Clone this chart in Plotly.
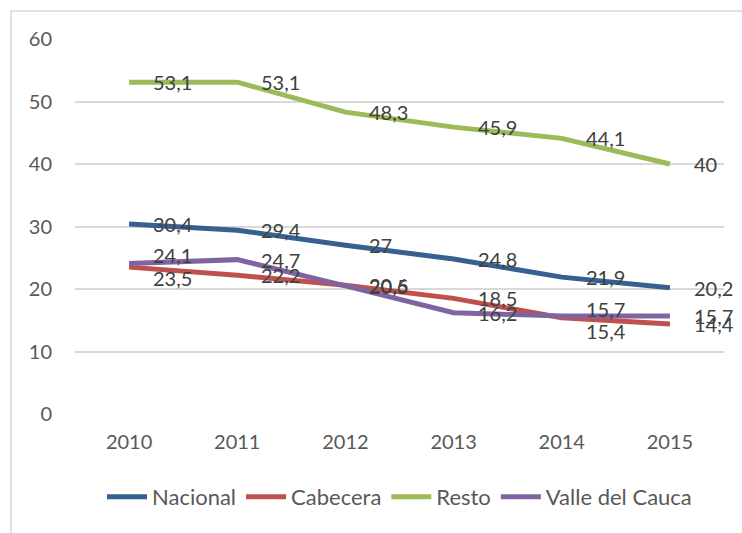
import plotly.graph_objects as go

years = ["2010", "2011", "2012", "2013", "2014", "2015"]
nacional = [30.4, 29.4, 27, 24.8, 21.9, 20.2]
cabecera = [23.5, 22.2, 20.6, 18.5, 15.4, 14.4]
resto = [53.1, 53.1, 48.3, 45.9, 44.1, 40]
valle = [24.1, 24.7, 20.5, 16.2, 15.7, 15.7]
y_ticks = [0, 10, 20, 30, 40, 50, 60]

series = [
    ("Nacional", nacional, "#36608F"),
    ("Cabecera", cabecera, "#C0504D"),
    ("Resto", resto, "#9BBB59"),
    ("Valle del Cauca", valle, "#8064A2"),
]

# vertical nudges of a few data labels (pixels), as placed in the original
label_nudge = {
    ("Valle del Cauca", 0): 8,
    ("Cabecera", 0): -11,
    ("Cabecera", 4): -13,
    ("Valle del Cauca", 4): 7,
}

FONT = "Lato"

fig = go.Figure()
annotations = []
for name, vals, color in series:
    fig.add_trace(go.Scatter(
        x=years, y=vals, name=name, mode="lines",
        line=dict(color=color, width=5),
    ))
    for i, v in enumerate(vals):
        txt = (f"{v:g}").replace(".", ",")
        annotations.append(dict(
            x=i, y=v, text=txt, showarrow=False, xanchor="left", yanchor="middle",
            xshift=22, yshift=label_nudge.get((name, i), 0),
            font=dict(family=FONT, size=20, color="#404040"),
        ))

fig.update_layout(
    width=742, height=533,
    margin=dict(l=75, r=18, t=39, b=119),
    paper_bgcolor="white", plot_bgcolor="white",
    showlegend=True,
    legend=dict(
        orientation="h", x=0.5, xanchor="center", y=-0.221, yanchor="middle",
        font=dict(family=FONT, size=22, color="#595959"),
        itemwidth=40, tracegroupgap=0,
    ),
    annotations=annotations,
    shapes=[dict(type="rect", xref="paper", yref="paper",
                 x0=-0.0986, x1=1.2, y0=-0.6, y1=1.0747,
                 line=dict(color="#D9D9D9", width=1.5), layer="below")],
)
fig.update_xaxes(
    type="category", range=[-0.5, 5.5], autorange=False,
    showgrid=False, showline=False, zeroline=False,
    ticks="", tickfont=dict(family=FONT, size=20, color="#595959"),
    ticklabelstandoff=14,
)
fig.update_yaxes(
    range=[0, 60], autorange=False, tickvals=y_ticks, showgrid=True,
    gridcolor="#D9D9D9", gridwidth=1.5,
    zeroline=False, showline=False, ticks="",
    tickfont=dict(family=FONT, size=20, color="#595959"),
    ticklabelstandoff=22,
)

fig.write_html("out.html", config={"displayModeBar": False},
               post_script="document.body.style.margin='0';")
